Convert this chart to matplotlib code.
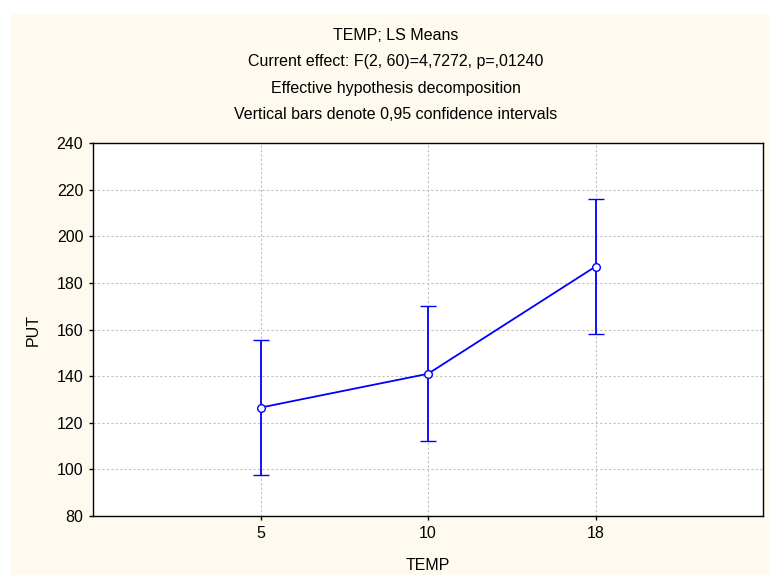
import matplotlib
matplotlib.use("Agg")
import matplotlib.pyplot as plt
from matplotlib.patches import Rectangle

plt.rcParams["font.family"] = ["Liberation Sans", "DejaVu Sans"]

# LS means of PUT by TEMP, with 0.95 confidence limits
temp_labels = ["5", "10", "18"]
put_mean = [126.5, 141.0, 187.0]
ci_low = [97.5, 112.0, 158.0]
ci_high = [155.5, 170.0, 216.0]

title_lines = [
    "TEMP; LS Means",
    "Current effect: F(2, 60)=4,7272, p=,01240",
    "Effective hypothesis decomposition",
    "Vertical bars denote 0,95 confidence intervals",
]

W, H = 769, 575
FS = 11.5
fig = plt.figure(figsize=(W / 100, H / 100), dpi=100)
fig.patch.set_facecolor("white")
# cream panel behind everything
fig.patches.append(Rectangle((11 / W, 0), 1 - 11 / W, 1 - 14 / H,
                             transform=fig.transFigure, facecolor="#fffaf0",
                             edgecolor="none", zorder=-10))

ax = fig.add_axes([93 / W, 1 - 516 / H, (763 - 93) / W, (516 - 143) / H])
ax.set_facecolor("white")

x = list(range(len(temp_labels)))
yerr = [[m - lo for m, lo in zip(put_mean, ci_low)],
        [hi - m for m, hi in zip(put_mean, ci_high)]]
ax.errorbar(x, put_mean, yerr=yerr, color="#0000ff", lw=1.3, elinewidth=1.3,
            capsize=6, capthick=1.3, marker="o", ms=5.5, mfc="white",
            mec="#0000ff", mew=1.0, zorder=3)

ax.set_xlim(-1, 3)
ax.set_ylim(80, 240)
ax.set_xticks(x)
ax.set_xticklabels(temp_labels)
ax.set_yticks(range(80, 241, 20))
ax.grid(True, color="#c0c0c0", linestyle=(0, (2, 2)), lw=0.8)
ax.set_axisbelow(True)
for s in ax.spines.values():
    s.set_color("black")
    s.set_linewidth(1.0)
ax.tick_params(direction="out", length=3, width=1, labelsize=FS, pad=4)

fig.text(428 / W, 1 - 565 / H, "TEMP", ha="center", va="center", fontsize=FS)
fig.text(33 / W, 1 - 330 / H, "PUT", ha="center", va="center",
         rotation=90, fontsize=FS)

for t, yp in zip(title_lines, [35, 61.5, 88, 114.5]):
    fig.text(396 / W, 1 - yp / H, t, ha="center", va="center", fontsize=FS)

fig.savefig("out.png", dpi=100, facecolor=fig.get_facecolor())
